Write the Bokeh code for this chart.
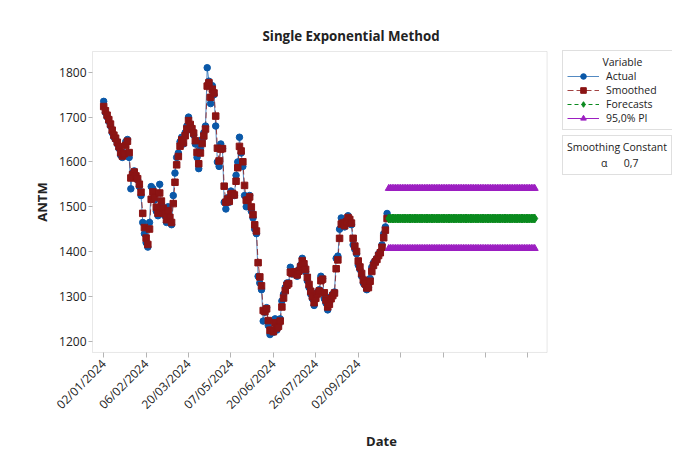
import math
from bokeh.plotting import figure
from bokeh.models import Range1d, FixedTicker, Legend, LegendItem, BoxAnnotation
from bokeh.embed import file_html
from bokeh.resources import INLINE

# ---------------- data ----------------
actual = [1735, 1710, 1700, 1690, 1680, 1665, 1655, 1650, 1640, 1630,
          1615, 1610, 1620, 1645, 1650, 1610, 1540, 1575, 1580, 1565,
          1560, 1545, 1525, 1465, 1440, 1420, 1410, 1465, 1545, 1540,
          1515, 1490, 1480, 1550, 1505, 1490, 1480, 1465, 1500, 1470,
          1460, 1525, 1575, 1610, 1620, 1645, 1655, 1640, 1665, 1680,
          1700, 1680, 1670, 1660, 1640, 1610, 1585, 1630, 1650, 1665,
          1680, 1810, 1780, 1730, 1770, 1750, 1680, 1600, 1590, 1640,
          1630, 1510, 1495, 1520, 1510, 1535, 1530, 1525, 1570, 1600,
          1655, 1620, 1590, 1525, 1500, 1515, 1525, 1490, 1475, 1450,
          1440, 1345, 1330, 1315, 1245, 1265, 1275, 1235, 1215, 1225,
          1220, 1250, 1225, 1235, 1250, 1290, 1305, 1320, 1330, 1330,
          1365, 1350, 1355, 1355, 1345, 1360, 1370, 1385, 1370, 1355,
          1335, 1320, 1305, 1295, 1280, 1300, 1310, 1315, 1345, 1340,
          1295, 1285, 1270, 1285, 1300, 1305, 1310, 1385, 1390, 1450,
          1475, 1465, 1455, 1470, 1480, 1470, 1460, 1415, 1405, 1395,
          1370, 1360, 1345, 1330, 1325, 1315, 1320, 1340, 1365, 1375,
          1380, 1385, 1395, 1400, 1415, 1440, 1455, 1485]

smoothed = [1723.5, 1714.1, 1704.2, 1694.3, 1684.3, 1670.8, 1659.7, 1652.9, 1643.9, 1634.2,
            1620.8, 1613.2, 1618.0, 1636.9, 1646.1, 1620.8, 1564.2, 1571.8, 1577.5, 1568.8,
            1562.6, 1550.3, 1532.6, 1485.3, 1453.6, 1430.1, 1416.0, 1450.3, 1516.6, 1533.0,
            1520.4, 1499.1, 1485.7, 1530.7, 1512.7, 1496.8, 1485.0, 1471.0, 1491.3, 1476.4,
            1464.9, 1507.0, 1554.6, 1593.4, 1612.0, 1635.1, 1649.0, 1642.7, 1658.3, 1673.5,
            1692.1, 1683.6, 1674.1, 1664.2, 1647.3, 1621.2, 1595.9, 1619.8, 1640.9, 1657.8,
            1673.3, 1769.0, 1776.7, 1744.0, 1762.2, 1753.7, 1702.1, 1630.6, 1602.2, 1628.7,
            1629.6, 1545.9, 1510.3, 1517.1, 1512.1, 1528.1, 1529.4, 1526.3, 1556.9, 1587.1,
            1634.6, 1624.4, 1600.3, 1547.6, 1514.3, 1514.8, 1521.9, 1499.6, 1482.4, 1459.7,
            1445.9, 1375.3, 1343.6, 1323.6, 1268.6, 1266.1, 1272.3, 1246.2, 1224.4, 1224.8,
            1221.4, 1241.4, 1229.9, 1233.5, 1245.1, 1276.5, 1296.5, 1313.0, 1324.9, 1328.5,
            1354.1, 1351.2, 1353.9, 1354.7, 1347.9, 1356.4, 1365.9, 1379.3, 1372.8, 1360.3,
            1342.6, 1326.8, 1311.5, 1300.0, 1286.0, 1295.8, 1305.7, 1312.2, 1335.2, 1338.6,
            1308.1, 1291.9, 1276.6, 1282.5, 1294.8, 1301.9, 1307.6, 1361.8, 1381.5, 1429.5,
            1461.4, 1463.9, 1457.7, 1466.3, 1475.9, 1471.8, 1463.5, 1429.6, 1412.4, 1400.2,
            1379.1, 1365.7, 1351.2, 1336.4, 1328.4, 1319.0, 1319.7, 1333.9, 1355.7, 1369.2,
            1376.8, 1382.5, 1391.3, 1397.4, 1409.7, 1430.9, 1447.8, 1473.8]

period = list(range(1, len(actual) + 1))

forecast_period = list(range(169, 256))
forecast_value = 1473.8
pi_upper_value = 1541.0
pi_lower_value = 1407.0
forecasts = [forecast_value] * len(forecast_period)
pi_upper = [pi_upper_value] * len(forecast_period)
pi_lower = [pi_lower_value] * len(forecast_period)

x_tick_positions = [1, 26, 51, 76, 101, 126, 151, 176, 201, 226, 251]
x_tick_labels = ["02/01/2024", "06/02/2024", "20/03/2024", "07/05/2024",
                 "20/06/2024", "26/07/2024", "02/09/2024", "", "", "", ""]
y_ticks = [1200, 1300, 1400, 1500, 1600, 1700, 1800]

# plotted data box (axis limits of the chart area)
box_x = (-5.6, 262.3)
box_y = (1175.0, 1846.2)

series_names = ["Actual", "Smoothed", "Forecasts", "95,0% PI"]
smoothing_title = "Smoothing Constant"
smoothing_text = "\u03b1\u00a0\u00a0\u00a0\u00a0\u00a0\u00a00,7"

# ---------------- style ----------------
FONT = "Open Sans"
BLUE = "#0a58a8"
RED = "#8b1414"
GREEN = "#0a8a1e"
PURPLE = "#9c1fc1"
GRAY = "#b4b4b4"
TXT = "#222222"

p = figure(width=676, height=457, output_backend="svg", toolbar_location=None,
           x_range=Range1d(-6.78, 336.2), y_range=Range1d(1170.54, 1850.66),
           min_border_left=90, min_border_right=4, min_border_top=49,
           min_border_bottom=103, title="Single Exponential Method")

p.title.align = "left"
p.title.offset = 172
p.title.text_font = FONT
p.title.text_font_size = "13.3px"
p.title.text_font_style = "bold"
p.title.text_color = TXT
p.title.standoff = 9

p.xgrid.visible = False
p.ygrid.visible = False
p.outline_line_color = None
p.background_fill_color = "white"
p.border_fill_color = "white"

p.add_layout(BoxAnnotation(left=box_x[0], right=box_x[1], bottom=box_y[0], top=box_y[1],
                           fill_alpha=0, fill_color=None, line_color=GRAY, line_width=1,
                           level="underlay"))

for ax in (p.xaxis, p.yaxis):
    ax.axis_line_color = None
    ax.major_tick_line_color = GRAY
    ax.minor_tick_line_color = None
    ax.major_tick_in = 2
    ax.major_label_text_font = FONT
    ax.major_label_text_font_size = "12px"
    ax.major_label_text_color = TXT
    ax.axis_label_text_font = FONT
    ax.axis_label_text_font_size = "13px"
    ax.axis_label_text_font_style = "bold"
    ax.axis_label_text_color = TXT

p.xaxis.ticker = FixedTicker(ticks=x_tick_positions)
p.xaxis.major_label_overrides = dict(zip(x_tick_positions, x_tick_labels))
p.xaxis.major_label_orientation = math.pi / 4
p.xaxis.major_tick_out = 3
p.xaxis.major_label_standoff = 4
p.xaxis.axis_label = "Date"
p.xaxis.axis_label_standoff = 10

p.yaxis.ticker = FixedTicker(ticks=y_ticks)
p.yaxis.major_tick_out = 2
p.yaxis.major_label_standoff = 2
p.yaxis.axis_label = "ANTM"
p.yaxis.axis_label_standoff = 5

# ---------------- glyphs ----------------
r_al = p.line(period, actual, line_color=BLUE, line_width=1, line_alpha=0.7)
r_sl = p.line(period, smoothed, line_color=RED, line_width=1, line_dash="6 3", line_alpha=0.8)
r_as = p.scatter(period, actual, marker="circle", size=6.5, fill_color=BLUE, line_color=BLUE)
r_ss = p.scatter(period, smoothed, marker="square", size=6.5, fill_color=RED, line_color=RED)

r_ul = p.line(forecast_period, pi_upper, line_color=PURPLE, line_width=1)
r_ll = p.line(forecast_period, pi_lower, line_color=PURPLE, line_width=1)
r_us = p.scatter(forecast_period, pi_upper, marker="triangle", size=7, fill_color=PURPLE, line_color=PURPLE)
r_ls = p.scatter(forecast_period, pi_lower, marker="triangle", size=7, fill_color=PURPLE, line_color=PURPLE)
r_fl = p.line(forecast_period, forecasts, line_color=GREEN, line_width=1, line_dash="4 3")
r_fs = p.scatter(forecast_period, forecasts, marker="diamond", size=9, fill_color=GREEN, line_color=GREEN)

nb = "\u00a0"
legend1 = Legend(items=[
    LegendItem(label=series_names[0], renderers=[r_al, r_as]),
    LegendItem(label=series_names[1] + nb * 5, renderers=[r_sl, r_ss]),
    LegendItem(label=series_names[2], renderers=[r_fl, r_fs]),
    LegendItem(label=series_names[3], renderers=[r_ul, r_us]),
], title=nb * 13 + "Variable", location=(472, 224))

legend2 = Legend(items=[LegendItem(label=smoothing_text, renderers=[])],
                 title=smoothing_title, location=(472, 179))

for lg in (legend1, legend2):
    lg.border_line_color = "#c0c0c0"
    lg.border_line_width = 1
    lg.background_fill_color = "white"
    lg.background_fill_alpha = 1
    lg.label_text_font = FONT
    lg.label_text_font_size = "10.5px"
    lg.label_text_color = TXT
    lg.title_text_font = FONT
    lg.title_text_font_size = "10.5px"
    lg.title_text_font_style = "normal"
    lg.title_text_color = TXT
    lg.margin = 0
    lg.label_standoff = 7
    lg.spacing = 0

legend1.padding = 4
legend1.glyph_width = 32
legend1.glyph_height = 14
legend1.label_height = 14
legend1.title_standoff = 0

legend2.padding = 4
legend2.glyph_width = 27
legend2.glyph_height = 12
legend2.label_height = 12
legend2.title_standoff = 2

p.add_layout(legend1)
p.add_layout(legend2)

open("out.html", "w").write(file_html(p, INLINE))
